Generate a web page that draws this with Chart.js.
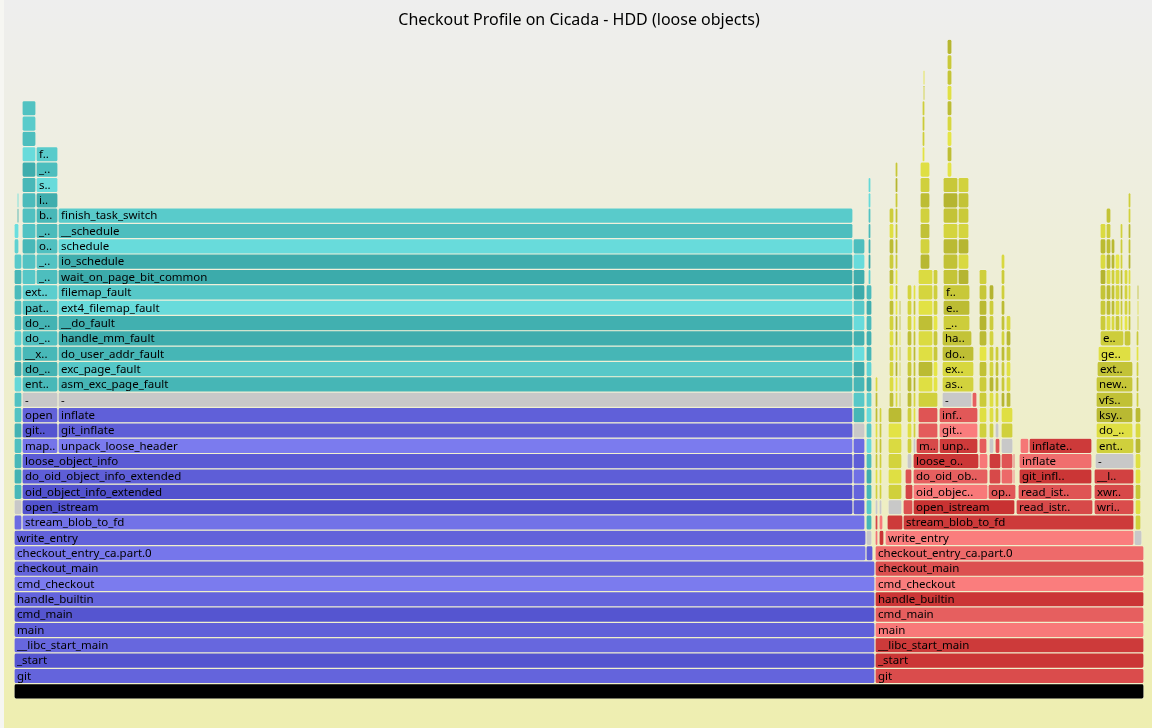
<!DOCTYPE html>
<html>
<head>
<meta charset="utf-8">
<title>Checkout Profile on Cicada - HDD (loose objects)</title>
<script src="https://cdn.jsdelivr.net/npm/chart.js@4.4.1/dist/chart.umd.min.js"></script>
<style>
  html, body { margin: 0; padding: 0; background: #fff; }
  #wrap { width: 1152px; height: 728px; }
</style>
</head>
<body>
<div id="wrap"><canvas id="flame"></canvas></div>
<script>
const TITLE = "Checkout Profile on Cicada - HDD (loose objects)";
const TOTAL_SAMPLES = 1130;
const levels = Array.from({ length: 43 }, (_, i) => i);

// kernel call chains reused by the thin towers
const K_OPEN = ["entry_SYSCALL_64_after_hwframe", "do_syscall_64", "__x64_sys_openat", "do_sys_openat2",
  "do_filp_open", "path_openat", "link_path_walk.part.0", "walk_component", "lookup_slow", "__lookup_slow",
  "ext4_lookup", "__ext4_find_entry", "ext4_dx_find_entry", "__ext4_read_dirblock", "ext4_bread",
  "ext4_getblk", "__getblk_gfp", "__find_get_block", "pagecache_get_page", "find_get_entry", "xas_load", "xas_start"];
const K_FAULT = ["asm_exc_page_fault", "exc_page_fault", "do_user_addr_fault", "handle_mm_fault",
  "__handle_mm_fault", "ext4_filemap_fault", "filemap_fault", "do_sync_mmap_readahead", "page_cache_sync_ra",
  "ondemand_readahead", "page_cache_ra_order", "read_pages", "ext4_readahead", "ext4_mpage_readpages",
  "submit_bio", "submit_bio_noacct", "blk_mq_submit_bio", "blk_flush_plug", "blk_mq_flush_plug_list",
  "blk_mq_sched_insert_requests", "blk_mq_run_hw_queue", "__blk_mq_delay_run_hw_queue", "blk_mq_sched_dispatch_requests"];
const K_MAP = ["filemap_get_pages", "filemap_read_page", "ext4_readpage", "ext4_map_blocks",
  "ext4_es_lookup_extent", "_raw_read_lock", "__rcu_read_lock"];
const K_MMAP = ["entry_SYSCALL_64_after_hwframe", "do_syscall_64", "ksys_mmap_pgoff", "vm_mmap_pgoff", "do_mmap",
  "mmap_region", "vma_link", "__vma_link_file", "vma_interval_tree_insert", "down_write", "rwsem_down_write_slowpath"];
const K_MUNMAP = ["entry_SYSCALL_64_after_hwframe", "do_syscall_64", "__x64_sys_munmap", "__vm_munmap", "__do_munmap",
  "unmap_region", "tlb_finish_mmu", "release_pages", "free_unref_page_list", "free_unref_page_commit", "free_pcppages_bulk"];
const K_STAT = ["entry_SYSCALL_64_after_hwframe", "do_syscall_64", "__do_sys_newlstat", "vfs_statx",
  "filename_lookup", "path_lookupat", "link_path_walk.part.0", "walk_component"];
const K_UNLINK = ["entry_SYSCALL_64_after_hwframe", "do_syscall_64", "__x64_sys_unlink", "do_unlinkat", "vfs_unlink", "ext4_unlink"];
const K_CREATE = ["open_last_lookups", "lookup_open", "ext4_create", "__ext4_new_inode", "ext4_mark_iloc_dirty",
  "ext4_do_update_inode", "ext4_inode_csum_set", "ext4_inode_csum", "crc32c_pcl_intel_update",
  "__ext4_handle_dirty_metadata", "jbd2_journal_dirty_metadata", "_raw_spin_lock", "ext4_journal_get_write_access",
  "jbd2_journal_get_write_access", "do_get_write_access", "unlock_buffer"];
const K_CLOSE = ["entry_SYSCALL_64_after_hwframe", "do_syscall_64", "__x64_sys_close", "__close_fd", "filp_close",
  "fput", "task_work_add", "syscall_exit_to_user_mode", "exit_to_user_mode_prepare", "task_work_run", "____fput",
  "__fput", "ext4_release_file", "ext4_alloc_da_blocks", "filemap_flush", "__filemap_fdatawrite_range"];

// frames: [start sample, width in samples, level, ...function names stacked upward]
const rootFrames = [[0, 1130, 0, "all"]];

const offCpuUser = [
  [0, 861, 1, "git", "_start", "__libc_start_main", "main", "cmd_main", "handle_builtin", "cmd_checkout", "checkout_main"],
  [0, 852, 9, "checkout_entry_ca.part.0", "write_entry"],
  [852, 7, 9, "unpack_trees"],
  [0, 8, 11, "create_file"],
  [8, 843, 11, "stream_blob_to_fd"],
  [8, 831, 12, "open_istream", "oid_object_info_extended", "do_oid_object_info_extended", "loose_object_info"],
  [839, 12, 12, "read_istream", "read_istream_loose", "git_inflate", "inflate", "inflate_fast"],
  [8, 36, 16, "map_loose_object", "git_open_cloexec", "open"],
  [44, 795, 16, "unpack_loose_header", "git_inflate", "inflate"],
];

const offCpuKernel = [
  [0, 8, 13, ...K_OPEN.slice(0, 16)],
  [0, 5, 29, ...K_OPEN.slice(16, 18)],
  [3, 2, 31, ...K_OPEN.slice(18, 20)],
  [8, 36, 20, "entry_SYSCALL_64_after_hwframe", "do_syscall_64", "__x64_sys_openat", "do_sys_openat2",
    "do_filp_open", "path_openat", "ext4_lookup"],
  [8, 14, 27, "__ext4_iget", "__ext4_get_inode_loc", "ext4_read_bh", "__wait_on_buffer", "out_of_line_wait_on_bit",
    "__wait_on_bit", "bit_wait_io", "io_schedule", "schedule", "__schedule", "finish_task_switch", "__perf_event_task_sched_in"],
  [22, 22, 27, "__ext4_find_entry", "__wait_on_buffer", "out_of_line_wait_on_bit", "__wait_on_bit", "bit_wait_io",
    "io_schedule", "schedule", "__schedule", "finish_task_switch"],
  [44, 795, 20, "asm_exc_page_fault", "exc_page_fault", "do_user_addr_fault", "handle_mm_fault", "__do_fault",
    "ext4_filemap_fault", "filemap_fault", "wait_on_page_bit_common", "io_schedule", "schedule", "__schedule", "finish_task_switch"],
  [839, 12, 18, "asm_exc_page_fault", "exc_page_fault", "do_user_addr_fault", "handle_mm_fault", "__handle_mm_fault",
    "__do_fault", "ext4_filemap_fault", "filemap_fault", "wait_on_page_bit_common", "io_schedule", "schedule", "__schedule"],
  [852, 6, 11, ...K_FAULT.slice(0, 16)],
  [854, 3, 27, ...K_FAULT.slice(16, 23)],
];

const onCpuUser = [
  [861, 269, 1, "git", "_start", "__libc_start_main", "main", "cmd_main", "handle_builtin", "cmd_checkout",
    "checkout_main", "checkout_entry_ca.part.0"],
  [861, 3, 10, "lstat_cache", "lstat"],
  [865, 5, 10, "unlink_entry"],
  [865, 4, 11, "unlink"],
  [871, 249, 10, "write_entry"],
  [873, 16, 11, "create_file"],
  [889, 231, 11, "stream_blob_to_fd"],
  [889, 10, 12, "close_istream"],
  [891, 8, 13, "close_istream_loose"],
  [891, 7, 14, "munmap"],
  [899, 102, 12, "open_istream"],
  [899, 75, 13, "oid_object_info_extended", "do_oid_object_info_extended"],
  [974, 28, 13, "open_istream_loose"],
  [975, 12, 14, "map_loose_object", "xmmap_gently"],
  [987, 12, 14, "git_open_cloexec", "open"],
  [999, 2, 14, "fstat", "xmmap"],
  [899, 66, 15, "loose_object_info"],
  [965, 9, 15, "oid_object_info"],
  [965, 8, 16, "xmmap"],
  [981, 5, 16, "xmmap"],
  [902, 23, 16, "map_loose_object"],
  [904, 20, 17, "map_loose_object_1", "open"],
  [925, 39, 16, "unpack_loose_header", "git_inflate", "inflate"],
  [958, 5, 19, "inflate_fast"],
  [1002, 77, 12, "read_istream"],
  [1004, 74, 13, "read_istream_loose"],
  [1005, 73, 14, "git_inflate", "inflate"],
  [1006, 9, 16, "adler32_z"],
  [1015, 63, 16, "inflate_fast"],
  [1080, 40, 12, "write_in_full", "xwrite", "__libc_write"],
];

const onCpuKernel = [
  [861, 3, 13, ...K_STAT],
  [865, 3, 13, ...K_UNLINK],
  [874, 14, 13, ...K_OPEN.slice(0, 6)],
  [875, 5, 19, ...K_OPEN.slice(6, 19)],
  [881, 3, 19, ...K_CREATE],
  [885, 2, 19, ...K_OPEN.slice(6, 13)],
  [893, 5, 16, ...K_MUNMAP],
  [899, 3, 17, ...K_OPEN.slice(0, 10)],
  [904, 20, 19, "entry_SYSCALL_64_after_hwframe"],
  [904, 15, 20, ...K_OPEN.slice(1, 9)],
  [919, 5, 20, ...K_CLOSE.slice(7, 15)],
  [906, 10, 28, ...K_OPEN.slice(9, 16)],
  [908, 3, 35, ...K_OPEN.slice(16, 20)],
  [909, 2, 39, ...K_OPEN.slice(20, 22)],
  [928, 32, 20, "asm_exc_page_fault", "exc_page_fault", "do_user_addr_fault"],
  [928, 30, 23, "handle_mm_fault"],
  [929, 27, 24, "__handle_mm_fault", "ext4_filemap_fault", "filemap_fault"],
  [929, 15, 27, ...K_FAULT.slice(7, 14)],
  [944, 11, 27, ...K_MAP],
  [933, 5, 34, ...K_FAULT.slice(14, 23)],
  [965, 8, 17, ...K_MMAP],
  [975, 5, 17, ...K_MMAP.slice(0, 10)],
  [981, 4, 18, ...K_FAULT.slice(0, 5)],
  [987, 12, 17, ...K_OPEN.slice(0, 2)],
  [987, 4, 19, ...K_OPEN.slice(2, 12)],
  [992, 5, 19, ...K_CREATE.slice(0, 6)],
  [1082, 38, 16, "entry_SYSCALL_64_after_hwframe"],
  [1082, 37, 17, "do_syscall_64", "ksys_write", "vfs_write", "new_sync_write"],
  [1083, 36, 21, "ext4_file_write_iter"],
  [1084, 33, 22, "generic_perform_write"],
  [1086, 24, 23, "ext4_da_write_begin"],
  [1110, 7, 23, "copy_page_from_iter_atomic"],
  [1086, 6, 24, "grab_cache_page_write_begin", "pagecache_get_page", "add_to_page_cache_lru",
    "__add_to_page_cache_locked", "mem_cgroup_charge", "__mem_cgroup_charge", "try_charge"],
  [1092, 5, 24, "ext4_block_write_begin", "ext4_da_get_block_prep", "ext4_da_map_blocks", "ext4_es_lookup_extent",
    "ext4_es_insert_delayed_block", "ext4_es_insert_extent", "__es_insert_extent", "kmem_cache_alloc"],
  [1097, 4, 24, "ext4_journal_check_start", "__ext4_journal_start_sb", "jbd2__journal_start", "start_this_handle",
    "add_transaction_credits", "_raw_read_lock"],
  [1101, 5, 24, "unlock_page", "wake_up_page_bit", "__wake_up_common", "_raw_spin_lock_irqsave",
    "native_queued_spin_lock_slowpath"],
  [1106, 3, 24, "wait_for_stable_page", "balance_dirty_pages_ratelimited", "balance_dirty_pages",
    "io_schedule_timeout", "schedule_timeout", "schedule", "__schedule"],
  [1110, 4, 24, "copyin", "copy_user_enhanced_fast_string", "asm_exc_page_fault", "exc_page_fault"],
  [1114, 3, 24, "handle_mm_fault", "__handle_mm_fault", "do_anonymous_page", "alloc_pages_vma", "__alloc_pages",
    "get_page_from_freelist", "rmqueue", "__rmqueue_pcplist", "clear_page_erms"],
  [1121, 6, 11, ...K_CLOSE.slice(0, 8)],
  [1122, 3, 19, ...K_CLOSE.slice(8, 13)],
  [1123, 2, 24, ...K_CLOSE.slice(13, 16)],
];

const unknownFrames = [
  [852, 6, 10, "-"], [0, 8, 12, "-"], [8, 36, 19, "-"], [44, 795, 19, "-"], [839, 12, 17, "-"],
  [1120, 8, 10, "-"], [861, 3, 12, "-"], [865, 3, 12, "-"], [874, 14, 12, "-"], [893, 5, 15, "-"],
  [899, 3, 16, "-"], [928, 30, 19, "-"], [1081, 39, 15, "-"], [975, 5, 16, "-"], [981, 4, 17, "-"],
  [987, 12, 16, "-"],
];

// shade picked for the wider frames (0 = darkest, 1 = lightest); "name@level" wins over "name"
const shades = {
  offUser: { git: .44, _start: .1, __libc_start_main: .5, main: .35, cmd_main: .1, handle_builtin: .45,
    cmd_checkout: .95, checkout_main: .45, "checkout_entry_ca.part.0": .85, write_entry: .4, stream_blob_to_fd: .75,
    open_istream: .05, oid_object_info_extended: .05, do_oid_object_info_extended: .3, loose_object_info: .25,
    unpack_loose_header: .95, git_inflate: .3, inflate: .35, map_loose_object: .8, git_open_cloexec: .1, open: .4,
    create_file: .6, read_istream: .3, read_istream_loose: .45, inflate_fast: .6, unpack_trees: .3,
    "git_inflate@14": .7, "inflate@15": .3 },
  offKernel: { asm_exc_page_fault: .25, exc_page_fault: .6, do_user_addr_fault: .25, handle_mm_fault: .1,
    __do_fault: .15, ext4_filemap_fault: .95, filemap_fault: .6, wait_on_page_bit_common: .05, io_schedule: .1,
    schedule: .95, __schedule: .4, finish_task_switch: .65, entry_SYSCALL_64_after_hwframe: .3, do_syscall_64: .2,
    __x64_sys_openat: .3, do_sys_openat2: .45, do_filp_open: .2, path_openat: .5, ext4_lookup: .7,
    __ext4_find_entry: .4, __wait_on_buffer: .5, out_of_line_wait_on_bit: .45, __wait_on_bit: .35, bit_wait_io: .3 },
  onUser: { git: .35, _start: .05, __libc_start_main: .1, main: .95, cmd_main: .6, handle_builtin: .05,
    cmd_checkout: 1, checkout_main: .4, "checkout_entry_ca.part.0": .75, write_entry: 1, stream_blob_to_fd: .1,
    open_istream: 0, oid_object_info_extended: .95, do_oid_object_info_extended: .6, loose_object_info: .05,
    map_loose_object: .3, unpack_loose_header: .1, git_inflate: 1, inflate: .5, "git_inflate@14": .05,
    "inflate@15": .8, inflate_fast: .1, "inflate_fast@19": .6, read_istream: .3, read_istream_loose: .45,
    write_in_full: .35, xwrite: .3, __libc_write: .2, map_loose_object_1: .55, open: .45, create_file: .1,
    close_istream: .4, adler32_z: .9, open_istream_loose: .5 },
  onKernel: { asm_exc_page_fault: .6, exc_page_fault: .7, do_user_addr_fault: .2, handle_mm_fault: .3,
    __handle_mm_fault: .5, ext4_filemap_fault: .15, filemap_fault: .4, entry_SYSCALL_64_after_hwframe: .55,
    do_syscall_64: .85, ksys_write: .1, vfs_write: .25, new_sync_write: .35, ext4_file_write_iter: .3,
    generic_perform_write: .85, ext4_da_write_begin: .5 },
};

const frames = [];
function addFrames(family, list) {
  for (const [start, width, level, ...names] of list) {
    names.forEach((name, i) => frames.push({ family, name, level: level + i, start, end: start + width }));
  }
}
addFrames("root", rootFrames);
addFrames("offUser", offCpuUser);
addFrames("offKernel", offCpuKernel);
addFrames("onUser", onCpuUser);
addFrames("onKernel", onCpuKernel);
addFrames("unknown", unknownFrames);

function hashShade(s) {
  let h = 2166136261;
  for (let i = 0; i < s.length; i++) { h ^= s.charCodeAt(i); h = Math.imul(h, 16777619); }
  return ((h >>> 0) % 1000) / 1000;
}

function frameColour(f) {
  if (!f) return "#888";
  if (f.family === "root") return "#000";
  if (f.family === "unknown") return "rgb(200,200,200)";
  const table = shades[f.family] || {};
  let t = table[f.name + "@" + f.level];
  if (t === undefined) t = table[f.name];
  if (t === undefined) t = hashShade(f.name + f.start);
  const mix = (a, b) => Math.round(a + (b - a) * t);
  switch (f.family) {
    case "offUser": return `rgb(${mix(80, 125)},${mix(80, 125)},${mix(204, 240)})`;
    case "offKernel": return `rgb(${mix(58, 106)},${mix(168, 222)},${mix(168, 222)})`;
    case "onUser": return `rgb(${mix(200, 250)},${mix(50, 125)},${mix(50, 125)})`;
    default: return `rgb(${mix(180, 230)},${mix(180, 230)},${mix(48, 70)})`;
  }
}

const background = {
  id: "background",
  beforeDraw(chart) {
    const { ctx, width, height } = chart;
    const g = ctx.createLinearGradient(0, 0, 0, height);
    g.addColorStop(0, "#eeeeee");
    g.addColorStop(1, "#eeeeb0");
    ctx.save();
    ctx.fillStyle = "#f6f6f2";
    ctx.fillRect(0, 0, width, height);
    ctx.fillStyle = g;
    ctx.fillRect(4, 0, width - 4, height);
    ctx.restore();
  }
};

// flamegraph style labels: only when 3+ characters fit, truncated with ".."
const CHAR_W = 6.8;
const frameLabels = {
  id: "frameLabels",
  afterDatasetsDraw(chart) {
    const ctx = chart.ctx;
    const meta = chart.getDatasetMeta(0);
    ctx.save();
    ctx.font = '11.5px "Noto Sans"';
    ctx.fillStyle = "#000";
    ctx.textBaseline = "middle";
    meta.data.forEach((bar, i) => {
      const f = frames[i];
      if (f.family === "root") return;
      const { x, base, y } = bar.getProps(["x", "base", "y"], true);
      const chars = Math.floor(Math.abs(x - base) / CHAR_W);
      if (chars < 3) return;
      let text = f.name.slice(0, chars);
      if (chars < f.name.length) text = text.slice(0, -2) + "..";
      ctx.fillText(text, Math.min(x, base) + 3, y + 0.5);
    });
    ctx.restore();
  }
};

new Chart(document.getElementById("flame"), {
  type: "bar",
  data: {
    labels: levels,
    datasets: [{
      data: frames.map(f => ({ x: [f.start, f.end], y: f.level })),
      backgroundColor: c => frameColour(frames[c.dataIndex]),
      borderColor: "rgba(242,242,222,0.95)",
      borderWidth: 0.6,
      borderRadius: 2,
      borderSkipped: false,
      inflateAmount: 0,
      barPercentage: 1,
      categoryPercentage: 1,
    }],
  },
  options: {
    indexAxis: "y",
    responsive: true,
    maintainAspectRatio: false,
    animation: false,
    layout: { padding: { left: 14, right: 8, top: 0, bottom: 29 } },
    scales: {
      x: { type: "linear", min: 0, max: TOTAL_SAMPLES, display: false },
      y: { type: "category", reverse: true, display: false },
    },
    plugins: {
      legend: { display: false },
      tooltip: { enabled: false },
      title: {
        display: true,
        text: TITLE,
        color: "#000",
        font: { family: "Noto Sans", size: 16, weight: "normal" },
        padding: { top: 11, bottom: 9 },
      },
    },
  },
  plugins: [background, frameLabels],
});
</script>
</body>
</html>
